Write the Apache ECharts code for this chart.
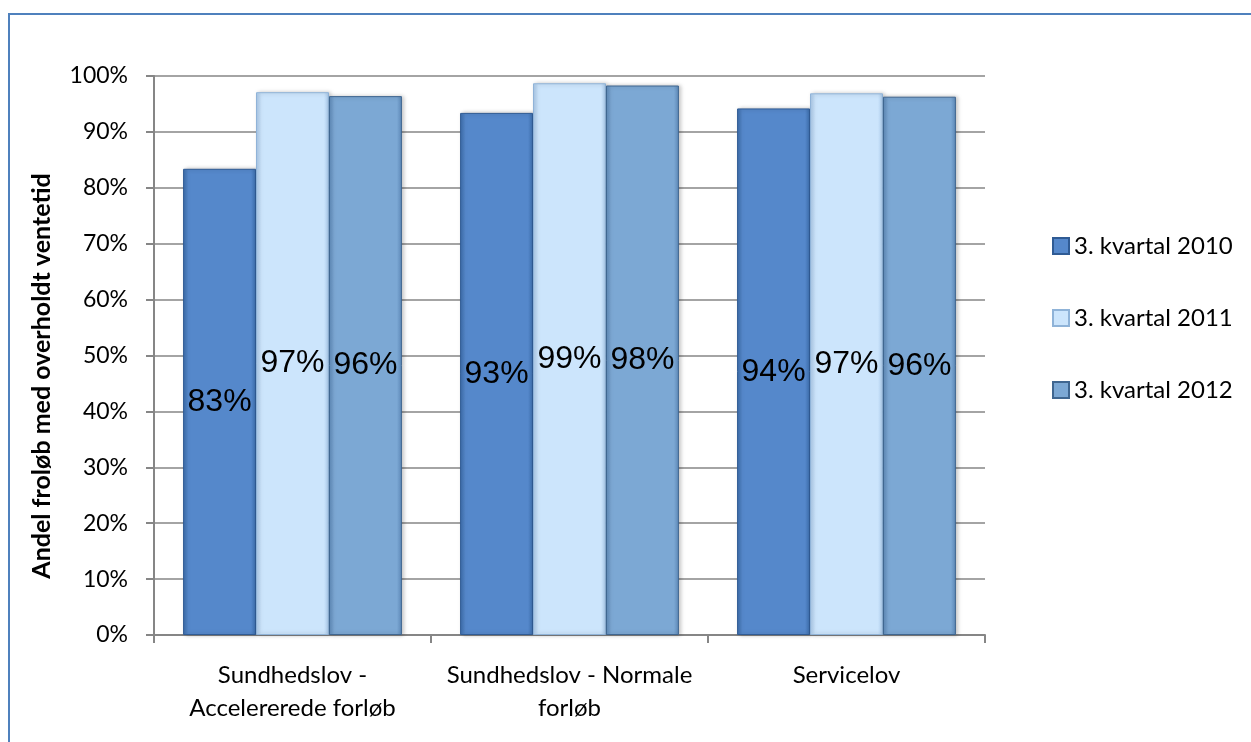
<!DOCTYPE html>
<html>
<head>
    <meta charset="UTF-8">
    <title>Overholdt ventetid</title>
    <script type="text/javascript" src="https://cdn.jsdelivr.net/npm/echarts@6/dist/echarts.min.js"></script>
    <style>
        body { margin: 0; background: #fff; }
        #chart { width: 1251px; height: 742px; }
    </style>
</head>
<body>
<div id="chart"></div>
<script>
    // kategorier og serier (procent)
    var categories = ["Sundhedslov -\nAccelererede forløb", "Sundhedslov - Normale\nforløb", "Servicelov"];
    var seriesNames = ["3. kvartal 2010", "3. kvartal 2011", "3. kvartal 2012"];
    var q2010 = [83.4, 93.4, 94.2];
    var q2011 = [97.1, 98.7, 96.9];
    var q2012 = [96.4, 98.3, 96.3];
    var yTicks = [0, 10, 20, 30, 40, 50, 60, 70, 80, 90, 100];

    var fills = [
        ["#3d6dab", "#5588cb", "#3d6dab"],
        ["#a9c9ea", "#cce5fc", "#a9c9ea"],
        ["#5d89b8", "#7ca8d4", "#5d89b8"]
    ];
    var borders = ["#2f5b94", "#8fb3d8", "#3f6690"];

    function barStyle(i) {
        return {
            color: new echarts.graphic.LinearGradient(0, 0, 1, 0, [
                {offset: 0, color: fills[i][0]},
                {offset: 0.07, color: fills[i][1]},
                {offset: 0.93, color: fills[i][1]},
                {offset: 1, color: fills[i][2]}
            ]),
            borderColor: borders[i],
            borderWidth: 1,
            shadowColor: "rgba(0,0,0,0.25)",
            shadowBlur: 4,
            shadowOffsetX: 2
        };
    }

    var legendColors = ["#4f81bd", "#c6e0f8", "#6f9cc9"];

    function makeSeries(name, data, i) {
        return {
            name: name,
            type: "bar",
            data: data,
            barGap: "0%",
            barCategoryGap: "21%",
            itemStyle: barStyle(i),
            color: legendColors[i],
            label: {
                show: true,
                position: "inside",
                color: "#000",
                fontSize: 32,
                fontFamily: "Liberation Sans",
                formatter: function (p) { return Math.round(p.value) + "%"; }
            }
        };
    }

    var chart = echarts.init(document.getElementById("chart"));
    chart.setOption({
        animation: false,
        grid: {left: 154, right: 266, top: 76, bottom: 107},
        legend: {
            orient: "vertical",
            left: 1047,
            top: 229,
            itemGap: 48,
            itemWidth: 16,
            itemHeight: 16,
            icon: "rect",
            data: seriesNames,
            textStyle: {fontSize: 24, fontFamily: "Lato", color: "#000"}
        },
        xAxis: {
            type: "category",
            data: categories,
            axisLine: {lineStyle: {color: "#868686", width: 2}},
            axisTick: {show: true, length: 8, lineStyle: {color: "#868686", width: 2}},
            axisLabel: {
                interval: 0,
                hideOverlap: false,
                margin: 24,
                fontSize: 24,
                lineHeight: 33,
                fontFamily: "Lato",
                color: "#000"
            }
        },
        yAxis: {
            type: "value",
            min: yTicks[0],
            max: yTicks[yTicks.length - 1],
            interval: 10,
            axisLine: {show: true, lineStyle: {color: "#868686", width: 2}},
            axisTick: {show: true, length: 8, lineStyle: {color: "#868686", width: 2}},
            splitLine: {lineStyle: {color: "#868686", width: 1.5}},
            axisLabel: {
                margin: 26,
                fontSize: 23,
                fontFamily: "Lato",
                color: "#000",
                formatter: "{value}%"
            }
        },
        graphic: [
            {
                type: "rect",
                shape: {x: 9, y: 14, width: 1300, height: 800},
                style: {fill: null, stroke: "#4f81bd", lineWidth: 2},
                silent: true
            },
            {
                type: "text",
                x: 42,
                y: 376,
                rotation: Math.PI / 2,
                style: {
                    text: "Andel froløb med overholdt ventetid",
                    fontSize: 25,
                    fontWeight: "bold",
                    fontFamily: "Lato",
                    fill: "#000",
                    align: "center",
                    verticalAlign: "middle"
                }
            }
        ],
        series: [
            makeSeries(seriesNames[0], q2010, 0),
            makeSeries(seriesNames[1], q2011, 1),
            makeSeries(seriesNames[2], q2012, 2)
        ]
    });
</script>
</body>
</html>
